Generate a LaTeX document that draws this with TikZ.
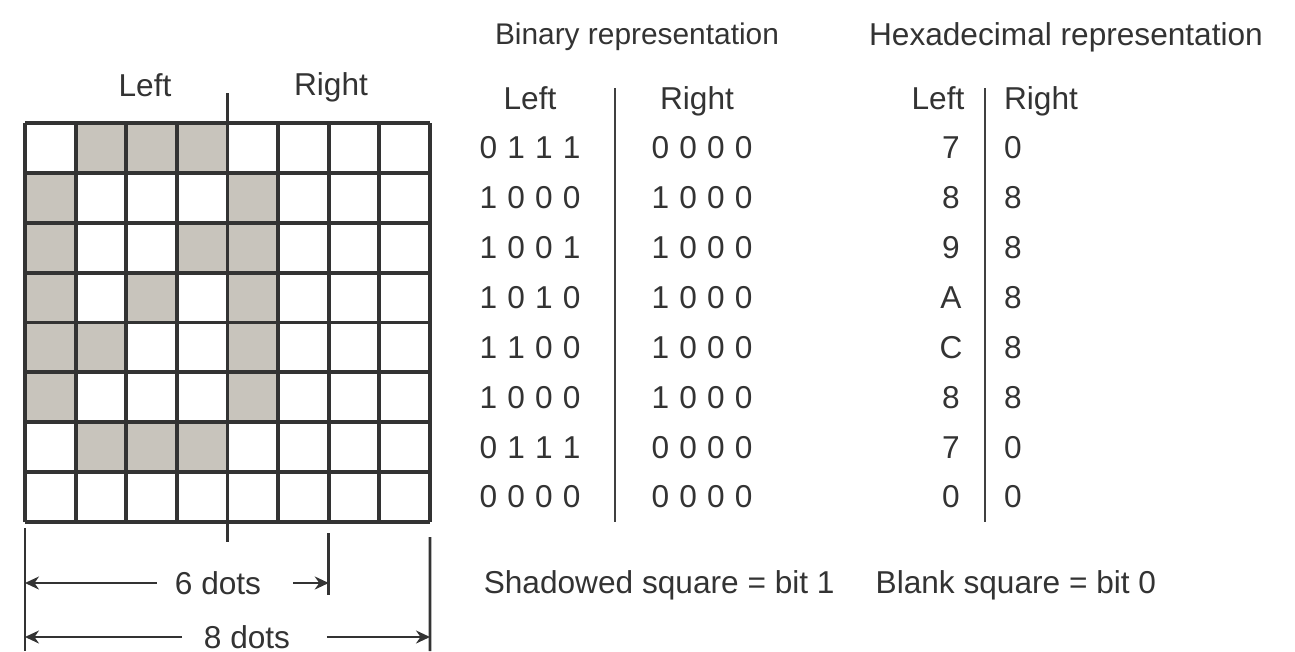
\documentclass[tikz,border=0pt]{standalone}
\usepackage{fontspec}
\setmainfont{Liberation Sans}
\setsansfont{Liberation Sans}
\usetikzlibrary{arrows.meta, positioning, calc}
\usepackage{xcolor}
\definecolor{dotgray}{RGB}{200,196,188}
\newcommand{\nib}[4]{#1\hspace{2.9pt}#2\hspace{2.9pt}#3\hspace{2.9pt}#4}

\begin{document}
\begin{tikzpicture}[
            cell/.style={fill=dotgray},
            gridline/.style={draw=black!80, line width=1.1pt},
            rule/.style={draw=black!75, line width=0.8pt},
            txt/.style={font=\fontsize{9}{11}\selectfont, text=black!80, inner sep=0pt},
            dimline/.style={draw=black!80, line width=0.8pt},
            dimarrow/.style={draw=black!80, line width=0.8pt, -{Stealth[length=1.4mm, width=1.3mm]}}]

        \useasboundingbox (0,0) rectangle (12.95,6.51);

        % Dot grid
        \begin{scope}[shift={(0.25,1.29)}, x=0.50625cm, y=0.49875cm]
            \foreach \c/\r in {1/0,2/0,3/0, 0/1,4/1, 0/2,3/2,4/2, 0/3,2/3,4/3, 0/4,1/4,4/4, 0/5,4/5, 1/6,2/6,3/6}
                \fill[cell] (\c,7-\r) rectangle ++(1,1);
            \foreach \k in {0,...,8} {
                \draw[gridline] (\k,0) -- (\k,8);
                \draw[gridline] (0,\k) -- (8,\k);
            }
            \coordinate (midtop) at (4,8.6);
            \coordinate (midbot) at (4,-0.4);
            \coordinate (gridSW) at (0,0);
            \coordinate (six) at (6,0);
            \coordinate (gridSE) at (8,0);
        \end{scope}
        \draw[gridline] (midtop) -- (midbot);

        \node[txt] (gleft) at (1.45,5.66) {Left};
        \node[txt] (gright) at (3.31,5.64) {Right};

        % Dimensions
        \coordinate (d0top) at ($(gridSW)+(0,-0.06)$);
        \coordinate (d0bot) at (0.25,0);
        \coordinate (d6top) at ($(six)+(0,-0.11)$);
        \coordinate (d6bot) at ($(six)+(0,-0.73)$);
        \coordinate (d8top) at ($(gridSE)+(0,-0.15)$);
        \coordinate (d8bot) at (4.30,0);
        \draw[dimline] (d0top) -- (d0bot);
        \draw[dimline] (d6top) -- (d6bot);
        \draw[dimline] (d8top) -- (d8bot);

        \coordinate (a6l) at (0.25,0.68);
        \coordinate (a6r) at ($(six)+(0,-0.61)$);
        \node[txt, inner xsep=5pt] (sixdots) at (2.18,0.68) {6 dots};
        \draw[dimarrow] (sixdots.west) -- (a6l);
        \draw[dimarrow, shorten <=0.14cm] (sixdots.east) -- (a6r);

        \coordinate (a8l) at (0.25,0.14);
        \coordinate (a8r) at (4.30,0.14);
        \node[txt, inner xsep=6pt] (eightdots) at (2.47,0.14) {8 dots};
        \draw[dimarrow] (eightdots.west) -- (a8l);
        \draw[dimarrow, shorten <=0.15cm] (eightdots.east) -- (a8r);

        % Tables
        \node[txt, font=\fontsize{8.5}{10}\selectfont] (binhead) at (6.37,6.14) {Binary representation};
        \node[txt] (hexhead) at (10.66,6.14) {Hexadecimal representation};

        \node[txt, anchor=base] (binleft) at (5.30,5.42) {Left};
        \node[txt, anchor=base] (binright) at (6.97,5.42) {Right};
        \node[txt, anchor=base] (hexleft) at (9.38,5.42) {Left};
        \node[txt, anchor=base] (hexright) at (10.41,5.42) {Right};

        \coordinate (bintop) at (6.15,5.63);
        \coordinate (binbot) at (6.15,1.29);
        \coordinate (hextop) at (9.85,5.63);
        \coordinate (hexbot) at (9.85,1.29);
        \draw[rule] (bintop) -- (binbot);
        \draw[rule] (hextop) -- (hexbot);

        \foreach \lbits/\rbits/\lhex/\rhex [count=\i from 0] in {0111/0000/7/0, 1000/1000/8/8, 1001/1000/9/8, 1010/1000/A/8, 1100/1000/C/8, 1000/1000/8/8, 0111/0000/7/0, 0000/0000/0/0} {
            \node[txt] (bl\i) at (5.30,{5.28-0.49875*(\i+0.5)}) {\expandafter\nib\lbits};
            \node[txt] (br\i) at (7.02,{5.28-0.49875*(\i+0.5)}) {\expandafter\nib\rbits};
            \node[txt] (hl\i) at (9.51,{5.28-0.49875*(\i+0.5)}) {\lhex};
            \node[txt] (hr\i) at (10.13,{5.28-0.49875*(\i+0.5)}) {\rhex};
        }

        % Legend
        \node[txt] (legend) at (8.20,0.66) {Shadowed square = bit 1\hspace{1.3em}Blank square = bit 0};

    \end{tikzpicture}
\end{document}
